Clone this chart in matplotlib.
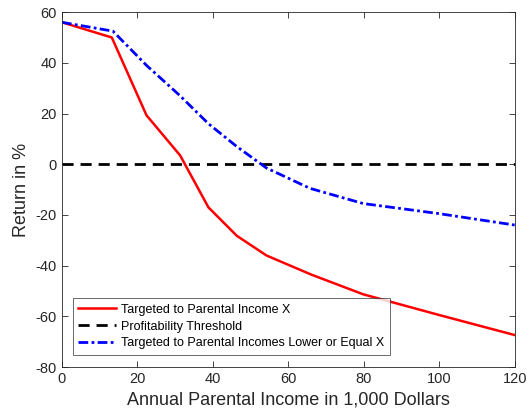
import matplotlib
matplotlib.use('Agg')
import matplotlib.pyplot as plt

plt.rcParams['font.family'] = ['Liberation Sans', 'DejaVu Sans']
plt.rcParams['axes.unicode_minus'] = False

# red: targeted to parental income X
income_x = [0, 13.2, 22.4, 31.3, 38.8, 46.3, 54.2, 66, 79.8, 100, 120]
return_x = [56, 50, 19.3, 3.5, -17, -28.2, -36, -43.5, -51.3, -59.5, -67.4]

# blue: targeted to parental incomes lower or equal X
income_le = [0, 13.5, 22.4, 31.3, 38.8, 46.3, 54.2, 65.7, 79.8, 100, 120]
return_le = [56, 52.5, 39, 27, 16, 7, -1.5, -9.5, -15.5, -19.5, -24]

threshold_x = [0, 120]
threshold_y = [0, 0]

fig = plt.figure(figsize=(5.27, 4.19), dpi=100)
ax = fig.add_axes([0.1176, 0.124, 0.8594, 0.847])

ax.plot(income_x, return_x, color='#ff0000', lw=1.8, label='Targeted to Parental Income X')
ax.plot(threshold_x, threshold_y, color='black', lw=2.0, ls=(0, (4, 2.5)), label='Profitability Threshold')
ax.plot(income_le, return_le, color='#0000ff', lw=2.0, ls=(0, (3.5, 1.2, 1, 1.2)),
        label='Targeted to Parental Incomes Lower or Equal X')

ax.set_xlim(0, 120)
ax.set_ylim(-80, 60)
ax.set_xticks([0, 20, 40, 60, 80, 100, 120])
ax.set_yticks([-80, -60, -40, -20, 0, 20, 40, 60])
ax.tick_params(direction='in', top=True, right=True, labelsize=10.5, colors='#262626',
               length=4, width=0.6)
for s in ax.spines.values():
    s.set_color('#262626')
    s.set_linewidth(0.6)

ax.set_xlabel('Annual Parental Income in 1,000 Dollars', fontsize=13, color='#262626')
ax.set_ylabel('Return in %', fontsize=13, color='#262626')

leg = ax.legend(loc='lower left', fontsize=9, frameon=True, fancybox=False,
                edgecolor='#262626', handlelength=3.0, handletextpad=0.4,
                borderpad=0.45, labelspacing=0.38, borderaxespad=0,
                bbox_to_anchor=(0.024, 0.034))
leg.get_frame().set_linewidth(0.6)

fig.savefig('out.png', dpi=100)
